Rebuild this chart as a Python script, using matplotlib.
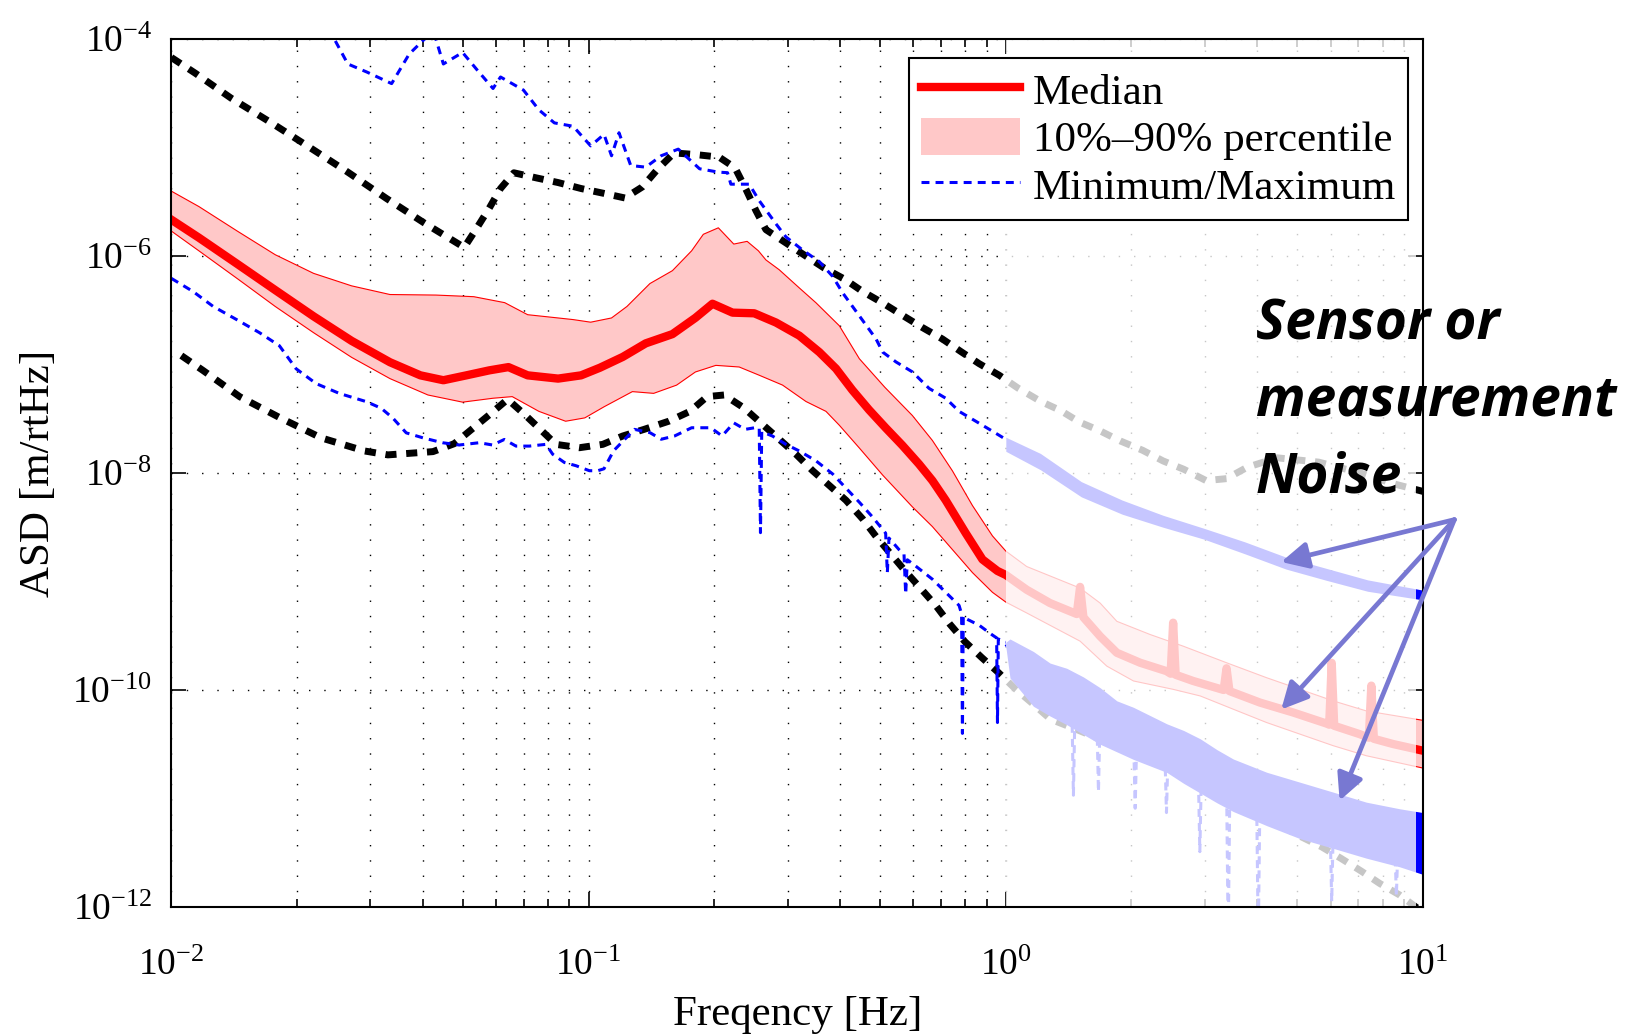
import numpy as np
import matplotlib
matplotlib.use("Agg")
import matplotlib.pyplot as plt
from matplotlib.lines import Line2D
from matplotlib.patches import Patch
from matplotlib.ticker import FixedLocator, LogLocator, NullLocator, LogFormatterMathtext

plt.rcParams['font.family'] = ['Liberation Serif', 'DejaVu Serif']
plt.rcParams['mathtext.fontset'] = 'stix'

# ---------------- data (log10 of frequency [Hz] and log10 of ASD [m/rtHz]) -------------
# Upper black dashed model (high noise model)
nhnm_lf = [-2.0, -1.943, -1.856, -1.760, -1.668, -1.577, -1.485, -1.394, -1.298, -1.270, -1.238,
           -1.211, -1.179, -1.124, -1.073, -1.018, -0.963, -0.913, -0.871, -0.835, -0.795, -0.743,
           -0.687, -0.649, -0.623, -0.599, -0.575, -0.531, -0.483, -0.435, -0.387, -0.344, -0.296,
           -0.248, -0.200, -0.152, -0.108, -0.064, -0.016, 0.029, 0.083, 0.132, 0.176, 0.225, 0.274,
           0.328, 0.377, 0.426, 0.480, 0.529, 0.578, 0.65, 0.75, 0.85, 0.93, 1.0]
nhnm_ly = [-4.17, -4.314, -4.547, -4.773, -5.0, -5.227, -5.468, -5.695, -5.921, -5.755, -5.559,
           -5.378, -5.233, -5.281, -5.323, -5.378, -5.423, -5.465, -5.363, -5.202, -5.05, -5.065,
           -5.089, -5.187, -5.384, -5.581, -5.757, -5.869, -5.991, -6.112, -6.212, -6.325, -6.431,
           -6.546, -6.659, -6.765, -6.880, -6.992, -7.099, -7.217, -7.339, -7.426, -7.530, -7.610,
           -7.704, -7.791, -7.889, -7.965, -8.070, -8.052, -7.948, -7.86, -7.90, -8.0, -8.10, -8.17]

# Lower black dashed model (low noise model)
nlnm_lf = [-1.976, -1.924, -1.836, -1.741, -1.641, -1.537, -1.481, -1.373, -1.322, -1.238, -1.194,
           -1.154, -1.078, -1.022, -0.966, -0.918, -0.867, -0.808, -0.757, -0.716, -0.675, -0.627,
           -0.587, -0.547, -0.503, -0.463, -0.423, -0.383, -0.343, -0.311, -0.276, -0.240, -0.204,
           -0.168, -0.134, -0.098, -0.058, -0.017, 0.024, 0.066, 0.107, 0.158, 0.210, 0.259, 0.310,
           0.362, 0.413, 0.461, 0.509, 0.557, 0.609, 0.657, 0.709, 0.757, 0.804, 0.852, 0.896, 0.944, 1.0]
nlnm_ly = [-6.918, -7.055, -7.297, -7.488, -7.676, -7.797, -7.833, -7.803, -7.730, -7.464, -7.321,
           -7.458, -7.736, -7.767, -7.736, -7.659, -7.598, -7.523, -7.432, -7.296, -7.281, -7.402,
           -7.539, -7.675, -7.827, -7.979, -8.115, -8.252, -8.424, -8.585, -8.745, -8.909, -9.064,
           -9.221, -9.394, -9.555, -9.70, -9.842, -9.994, -10.131, -10.269, -10.346, -10.428, -10.514,
           -10.590, -10.673, -10.758, -10.850, -10.957, -11.049, -11.156, -11.248, -11.355, -11.446,
           -11.554, -11.670, -11.783, -11.890, -12.05]

# Median
med_lf = [-2.0, -1.934, -1.842, -1.751, -1.659, -1.568, -1.476, -1.403, -1.348, -1.293, -1.238,
          -1.192, -1.146, -1.073, -1.018, -0.973, -0.918, -0.863, -0.799, -0.744, -0.703, -0.655,
          -0.603, -0.551, -0.495, -0.447, -0.407, -0.368, -0.328, -0.288, -0.248, -0.208, -0.176,
          -0.144, -0.096, -0.056, -0.020, 0.0, 0.050, 0.106, 0.170, 0.178, 0.186, 0.226, 0.266,
          0.322, 0.385, 0.395, 0.401, 0.407, 0.449, 0.522, 0.529, 0.536, 0.609, 0.689, 0.769,
          0.775, 0.781, 0.787, 0.848, 0.870, 0.876, 0.882, 0.928, 1.0]
med_ly = [-5.665, -5.831, -6.073, -6.314, -6.556, -6.782, -6.979, -7.10, -7.145, -7.10, -7.054,
          -7.024, -7.10, -7.130, -7.10, -7.03, -6.93, -6.805, -6.72, -6.57, -6.44, -6.522,
          -6.528, -6.613, -6.734, -6.886, -7.038, -7.235, -7.417, -7.584, -7.745, -7.918, -8.070,
          -8.252, -8.555, -8.797, -8.903, -8.94, -9.076, -9.199, -9.30, -9.05, -9.33, -9.505, -9.657,
          -9.749, -9.826, -9.85, -9.38, -9.86, -9.917, -10.0, -9.80, -10.01, -10.116, -10.208, -10.31,
          -10.32, -9.75, -10.33, -10.407, -10.44, -9.96, -10.45, -10.498, -10.56]

# 90 % percentile (upper edge of band)
p90_lf = [-2.0, -1.934, -1.842, -1.751, -1.659, -1.568, -1.476, -1.366, -1.275, -1.201, -1.146,
          -1.073, -1.037, -0.995, -0.945, -0.908, -0.853, -0.799, -0.753, -0.725, -0.689, -0.652,
          -0.620, -0.593, -0.575, -0.543, -0.495, -0.455, -0.399, -0.351, -0.29, -0.224, -0.176,
          -0.128, -0.080, -0.032, 0.0, 0.050, 0.178, 0.226, 0.266, 0.346, 0.425, 0.529, 0.625,
          0.705, 0.785, 0.864, 1.0]
p90_ly = [-5.402, -5.544, -5.770, -5.988, -6.160, -6.275, -6.355, -6.36, -6.375, -6.430, -6.541,
          -6.571, -6.586, -6.610, -6.571, -6.465, -6.254, -6.135, -5.952, -5.80, -5.74, -5.89,
          -5.865, -5.952, -6.036, -6.127, -6.294, -6.431, -6.643, -6.947, -7.21, -7.47, -7.70,
          -7.98, -8.30, -8.58, -8.72, -8.862, -9.061, -9.199, -9.367, -9.489, -9.596, -9.749, -9.887,
          -9.994, -10.101, -10.193, -10.28]

# 10 % percentile (lower edge of band)
p10_lf = [-2.0, -1.934, -1.842, -1.751, -1.659, -1.568, -1.476, -1.385, -1.302, -1.229, -1.183,
          -1.119, -1.055, -1.009, -0.963, -0.895, -0.844, -0.789, -0.744, -0.695, -0.639, -0.591,
          -0.535, -0.479, -0.431, -0.399, -0.351, -0.295, -0.224, -0.176, -0.128, -0.080, -0.032,
          0.0, 0.050, 0.178, 0.242, 0.306, 0.401, 0.466, 0.545, 0.625, 0.705, 0.785, 0.864, 1.0]
p10_ly = [-5.770, -5.952, -6.208, -6.465, -6.707, -6.934, -7.130, -7.281, -7.347, -7.311, -7.296,
          -7.432, -7.523, -7.492, -7.39, -7.25, -7.266, -7.190, -7.069, -7.008, -7.023, -7.099,
          -7.190, -7.341, -7.432, -7.56, -7.77, -8.02, -8.312, -8.494, -8.706, -8.918, -9.1,
          -9.19, -9.290, -9.550, -9.780, -9.917, -9.994, -10.055, -10.177, -10.300, -10.407,
          -10.514, -10.606, -10.72]

# Maximum (blue dashed, below 1 Hz)
max_lf = [-2.0, -1.75, -1.609, -1.577, -1.531, -1.472, -1.430, -1.394, -1.37, -1.348, -1.302,
          -1.266, -1.229, -1.211, -1.156, -1.119, -1.082, -1.037, -0.995, -0.963, -0.945, -0.927,
          -0.899, -0.863, -0.826, -0.785, -0.734, -0.689, -0.667, -0.659, -0.615, -0.591, -0.551,
          -0.527, -0.487, -0.447, -0.415, -0.391, -0.351, -0.311, -0.295, -0.263, -0.224, -0.184,
          -0.144, -0.112, -0.072, -0.032, 0.0]
max_ly = [-3.6, -3.8, -4.003, -4.230, -4.305, -4.411, -4.139, -4.003, -3.95, -4.230, -4.124,
          -4.290, -4.456, -4.350, -4.471, -4.653, -4.773, -4.804, -4.985, -4.879, -5.076, -4.864,
          -5.166, -5.181, -5.076, -5.015, -5.196, -5.227, -5.232, -5.338, -5.338, -5.490, -5.703,
          -5.824, -5.945, -6.052, -6.188, -6.340, -6.552, -6.765, -6.886, -6.977, -7.068, -7.220,
          -7.311, -7.432, -7.523, -7.615, -7.69]

# Maximum above 1 Hz (noisy band: upper / lower envelope)
maxhf_lf = [0.0, 0.083, 0.181, 0.279, 0.377, 0.475, 0.573, 0.671, 0.769, 0.867, 1.0]
maxhf_hi = [-7.67, -7.82, -8.08, -8.25, -8.39, -8.51, -8.635, -8.775, -8.88, -8.985, -9.08]
maxhf_lo = [-7.80, -7.97, -8.22, -8.38, -8.50, -8.61, -8.745, -8.885, -8.99, -9.09, -9.17]

# Minimum (blue dashed, below 1 Hz)
min_lf = [-2.0, -1.948, -1.900, -1.844, -1.789, -1.741, -1.701, -1.653, -1.597, -1.533, -1.497,
          -1.469, -1.437, -1.397, -1.350, -1.310, -1.262, -1.230, -1.202, -1.174, -1.142, -1.102,
          -1.086, -1.058, -1.030, -0.998, -0.978, -0.963, -0.940, -0.890, -0.853, -0.826, -0.794,
          -0.753, -0.707, -0.680, -0.652, -0.625, -0.602, -0.591, -0.588, -0.585, -0.559, -0.527,
          -0.495, -0.455, -0.415, -0.383, -0.351, -0.320, -0.288, -0.284, -0.280, -0.256, -0.244,
          -0.240, -0.236, -0.216, -0.176, -0.144, -0.112, -0.106, -0.104, -0.102, -0.096, -0.064,
          -0.032, -0.022, -0.020, -0.018, -0.004, 0.0]
min_ly = [-6.206, -6.327, -6.464, -6.585, -6.706, -6.827, -7.039, -7.176, -7.267, -7.342, -7.403,
          -7.494, -7.630, -7.676, -7.721, -7.742, -7.721, -7.742, -7.691, -7.752, -7.752, -7.736,
          -7.827, -7.903, -7.933, -7.979, -7.979, -7.961, -7.795, -7.598, -7.628, -7.689, -7.659,
          -7.583, -7.583, -7.659, -7.538, -7.598, -7.583, -7.584, -8.55, -7.62, -7.66, -7.736,
          -7.797, -7.888, -8.009, -8.14, -8.27, -8.403, -8.555, -8.92, -8.60, -8.706, -8.75,
          -9.115, -8.80, -8.858, -8.979, -9.1, -9.221, -9.30, -10.40, -9.32, -9.342, -9.403,
          -9.494, -9.52, -10.30, -9.53, -9.555, -9.56]

# Minimum above 1 Hz: noisy cloud envelope and dashed trace with dips
cloud_lf = [0.0, 0.01, 0.066, 0.106, 0.146, 0.186, 0.226, 0.266, 0.306, 0.346, 0.386, 0.426,
            0.466, 0.506, 0.545, 0.625, 0.705, 0.785, 0.864, 0.944, 1.0]
cloud_hi = [-9.56, -9.53, -9.645, -9.752, -9.80, -9.88, -9.979, -10.1, -10.16, -10.236, -10.312,
            -10.373, -10.45, -10.55, -10.636, -10.758, -10.850, -10.942, -11.034, -11.095, -11.13]
cloud_lo = [-9.60, -9.89, -10.15, -10.24, -10.32, -10.41, -10.50, -10.57, -10.64, -10.70, -10.76,
            -10.86, -10.95, -11.04, -11.12, -11.25, -11.37, -11.46, -11.55, -11.63, -11.70]
minhf_lf = [0.0, 0.066, 0.158, 0.162, 0.166, 0.218, 0.222, 0.226, 0.306, 0.310, 0.314, 0.381,
            0.385, 0.389, 0.461, 0.465, 0.469, 0.529, 0.533, 0.537, 0.601, 0.605, 0.609, 0.70,
            0.777, 0.781, 0.785, 0.85, 0.932, 0.936, 0.940, 1.0]
minhf_ly = [-9.58, -9.9, -10.1, -10.97, -10.12, -10.22, -10.94, -10.24, -10.4, -11.09, -10.42,
            -10.55, -11.13, -10.56, -10.7, -11.49, -10.71, -10.85, -12.3, -10.87, -10.98, -12.3,
            -11.0, -11.1, -11.22, -11.95, -11.23, -11.3, -11.38, -11.9, -11.4, -11.45]

legend_labels = ["Median", "10%\u201390% percentile", "Minimum/Maximum"]
annotation_lines = ["Sensor or", "measurement", "Noise"]
# arrows: tail and heads (log10 f, log10 ASD)
arrow_tail = (1.075, -8.43)
arrow_heads = [(0.66, -8.82), (0.66, -10.18), (0.80, -11.02)]

xticks = [1e-2, 1e-1, 1e0, 1e1]
yticks = [1e-12, 1e-10, 1e-8, 1e-6, 1e-4]

def P(lf, ly):
    return 10.0 ** np.asarray(lf, float), 10.0 ** np.asarray(ly, float)

for a, b in [(nhnm_lf, nhnm_ly), (nlnm_lf, nlnm_ly), (med_lf, med_ly), (p90_lf, p90_ly),
             (p10_lf, p10_ly), (max_lf, max_ly), (min_lf, min_ly), (minhf_lf, minhf_ly)]:
    assert len(a) == len(b), (len(a), len(b))

# ---------------- figure -----------------
fig = plt.figure(figsize=(16.41, 10.35), dpi=100)
ax = fig.add_axes([0.1044, 0.1237, 0.7628, 0.8386])
ax.set_xscale('log')
ax.set_yscale('log')
ax.set_xlim(1e-2, 1e1)
ax.set_ylim(1e-12, 1e-4)

BAND = '#ffc8c8'
RED = '#ff0000'
BLUE = '#0000ff'

# percentile band
xh, yh = P(p90_lf, p90_ly)
xl, yl = P(p10_lf, p10_ly)
ax.fill(np.concatenate([xh, xl[::-1]]), np.concatenate([yh, yl[::-1]]),
        facecolor=BAND, edgecolor='none', zorder=1)
ax.plot(xh, yh, color=RED, lw=0.8, zorder=1.1)
ax.plot(xl, yl, color=RED, lw=0.8, zorder=1.1)

# models
ax.plot(*P(nhnm_lf, nhnm_ly), color='black', lw=5, dashes=(1.6, 1.4), zorder=1.5)
ax.plot(*P(nlnm_lf, nlnm_ly), color='black', lw=5, dashes=(1.6, 1.4), zorder=1.5)

# min / max
ax.plot(*P(max_lf, max_ly), color=BLUE, lw=2.2, dashes=(2.6, 2.0), zorder=1.7)
ax.plot(*P(min_lf, min_ly), color=BLUE, lw=2.2, dashes=(2.6, 2.0), zorder=1.7)
cx = 10.0 ** np.asarray(cloud_lf)
ax.fill_between(cx, 10.0 ** np.asarray(cloud_lo), 10.0 ** np.asarray(cloud_hi),
                color=BLUE, lw=0, zorder=1.6)
ax.plot(*P(minhf_lf, minhf_ly), color=BLUE, lw=2.2, dashes=(2.6, 2.0), zorder=1.7)
mx = 10.0 ** np.asarray(maxhf_lf)
ax.fill_between(mx, 10.0 ** np.asarray(maxhf_lo), 10.0 ** np.asarray(maxhf_hi),
                color=BLUE, lw=0, zorder=1.6)

# median
ax.plot(*P(med_lf, med_ly), color=RED, lw=6, zorder=2, solid_joinstyle='round')

# fade overlay above 1 Hz
ax.axvspan(1.0, 10 ** 0.982, color='white', alpha=0.78, lw=0, zorder=3)

# axes styling
ax.set_axisbelow(True)
for s in ax.spines.values():
    s.set_linewidth(1.5)
    s.set_zorder(5)
ax.xaxis.set_major_locator(FixedLocator(xticks))
ax.xaxis.set_minor_locator(LogLocator(base=10, subs=np.arange(2, 10)))
ax.yaxis.set_major_locator(FixedLocator(yticks))
ax.yaxis.set_minor_locator(NullLocator())
ax.xaxis.set_major_formatter(LogFormatterMathtext())
ax.yaxis.set_major_formatter(LogFormatterMathtext())
ax.tick_params(which='both', direction='in', top=True, right=True, labelsize=27, width=1.2)
ax.tick_params(which='major', length=11)
ax.tick_params(which='minor', length=6)
ax.tick_params(axis='x', pad=30)
ax.tick_params(axis='y', pad=14)
ax.grid(True, which='major', axis='both', color='black', lw=1.0, ls=(0, (1, 10)))
ax.grid(True, which='minor', axis='x', color='black', lw=1.0, ls=(0, (1, 10)))

ax.set_xlabel('Freqency [Hz]', fontsize=31, labelpad=9)
ax.set_ylabel('ASD [m/rtHz]', fontsize=31, labelpad=10)

# legend
handles = [Line2D([], [], color=RED, lw=6),
           Patch(facecolor=BAND, edgecolor='none'),
           Line2D([], [], color=BLUE, lw=2.2, dashes=(2.6, 2.0))]
leg = ax.legend(handles, legend_labels, loc='upper right', bbox_to_anchor=(0.988, 0.978),
                borderaxespad=0, fontsize=31, frameon=True, fancybox=False, framealpha=1,
                edgecolor='black', handlelength=2.3, handleheight=0.95, handletextpad=0.3,
                labelspacing=0.12, borderpad=0.28)
leg.get_frame().set_linewidth(1.5)
leg.set_zorder(6)

# annotation
ARROW = '#7878d2'
tail = (10 ** arrow_tail[0], 10 ** arrow_tail[1])
for hx, hy in arrow_heads:
    ax.annotate('', xy=(10 ** hx, 10 ** hy), xytext=tail, xycoords='data', textcoords='data',
                arrowprops=dict(arrowstyle='-|>', color=ARROW, lw=3.4, mutation_scale=40,
                                shrinkA=0, shrinkB=0),
                annotation_clip=False, zorder=7)
for txt, yb in zip(annotation_lines, [0.6715, 0.599, 0.5246]):
    fig.text(0.7654, yb, txt, fontsize=39.5, family=['Open Sans', 'DejaVu Sans'],
             weight='bold', style='italic', va='baseline', ha='left', zorder=8)

fig.savefig('out.png', dpi=100)
